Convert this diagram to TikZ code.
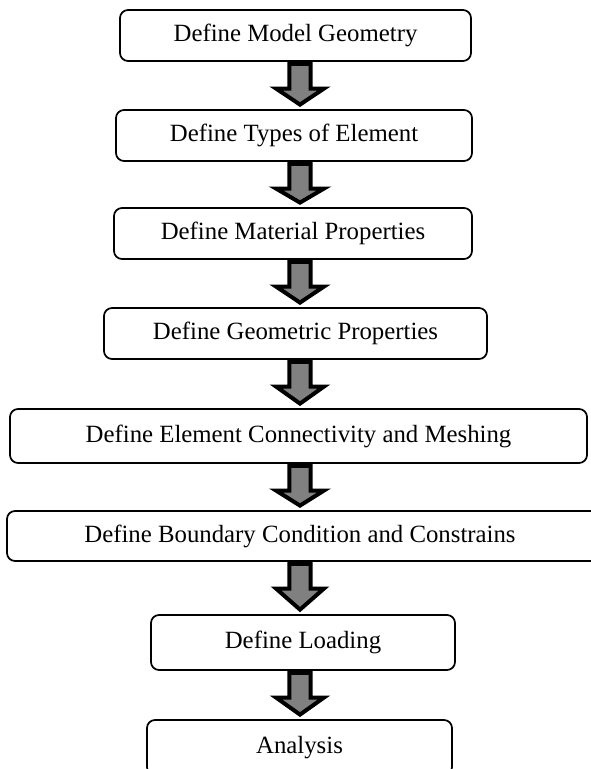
\documentclass[tikz,border=0pt]{standalone}
\usepackage{fontspec}
\setmainfont{Liberation Serif}
\usetikzlibrary{calc}
\definecolor{arrowgray}{RGB}{128,128,128}
\newcommand\flowarrow[2]{%
  \draw[barrow] let \p1=(#1.south), \p2=(#2.north) in
    (225pt-7.9pt,\y1-1.5pt) -- (225pt-7.9pt,\y1-20pt) -- (225pt-18pt,\y1-20pt)
    -- (225pt,\y2+3.4pt) -- (225pt+18pt,\y1-20pt) -- (225pt+7.9pt,\y1-20pt)
    -- (225pt+7.9pt,\y1-1.5pt) -- cycle;}
\begin{document}
\begin{tikzpicture}[x=0.75pt,y=-0.75pt,
  box/.style={draw=black, line width=1.3pt, rounded corners=6pt, fill=white,
    inner sep=0pt, font=\fontsize{18.6}{22}\selectfont},
  lbl/.style={inner sep=0pt, font=\fontsize{18.6}{22}\selectfont},
  barrow/.style={draw=black, line width=3pt, fill=arrowgray, line join=miter, miter limit=10}]
\useasboundingbox (0,0) rectangle (591,769);
\node[box, minimum width=263.25pt, minimum height=38.25pt] (b1) at (295.5,35.5) {Define Model Geometry};
\node[box, minimum width=267pt, minimum height=38.25pt] (b2) at (294,135.5) {Define Types of Element};
\node[box, minimum width=268.5pt, minimum height=38.25pt] (b3) at (293,233.5) {Define Material Properties};
\node[box, minimum width=287.25pt, minimum height=38.25pt] (b4) at (295.5,333.5) {Define Geometric Properties};
\node[box, minimum width=432.75pt, minimum height=40.5pt] (b5) at (298.5,436) {Define Element Connectivity and Meshing};
\node[box, minimum width=448.5pt, minimum height=37.5pt] (b6) at (306,536) {};
\node[lbl] (b6t) at (300,536) {Define Boundary Condition and Constrains};
\node[box, minimum width=228pt, minimum height=41.25pt] (b7) at (303,642.5) {Define Loading};
\node[box, minimum width=228.75pt, minimum height=41.25pt] (b8) at (299.5,747.5) {Analysis};
\flowarrow{b1}{b2}
\flowarrow{b2}{b3}
\flowarrow{b3}{b4}
\flowarrow{b4}{b5}
\flowarrow{b5}{b6}
\flowarrow{b6}{b7}
\flowarrow{b7}{b8}
\end{tikzpicture}
\end{document}
